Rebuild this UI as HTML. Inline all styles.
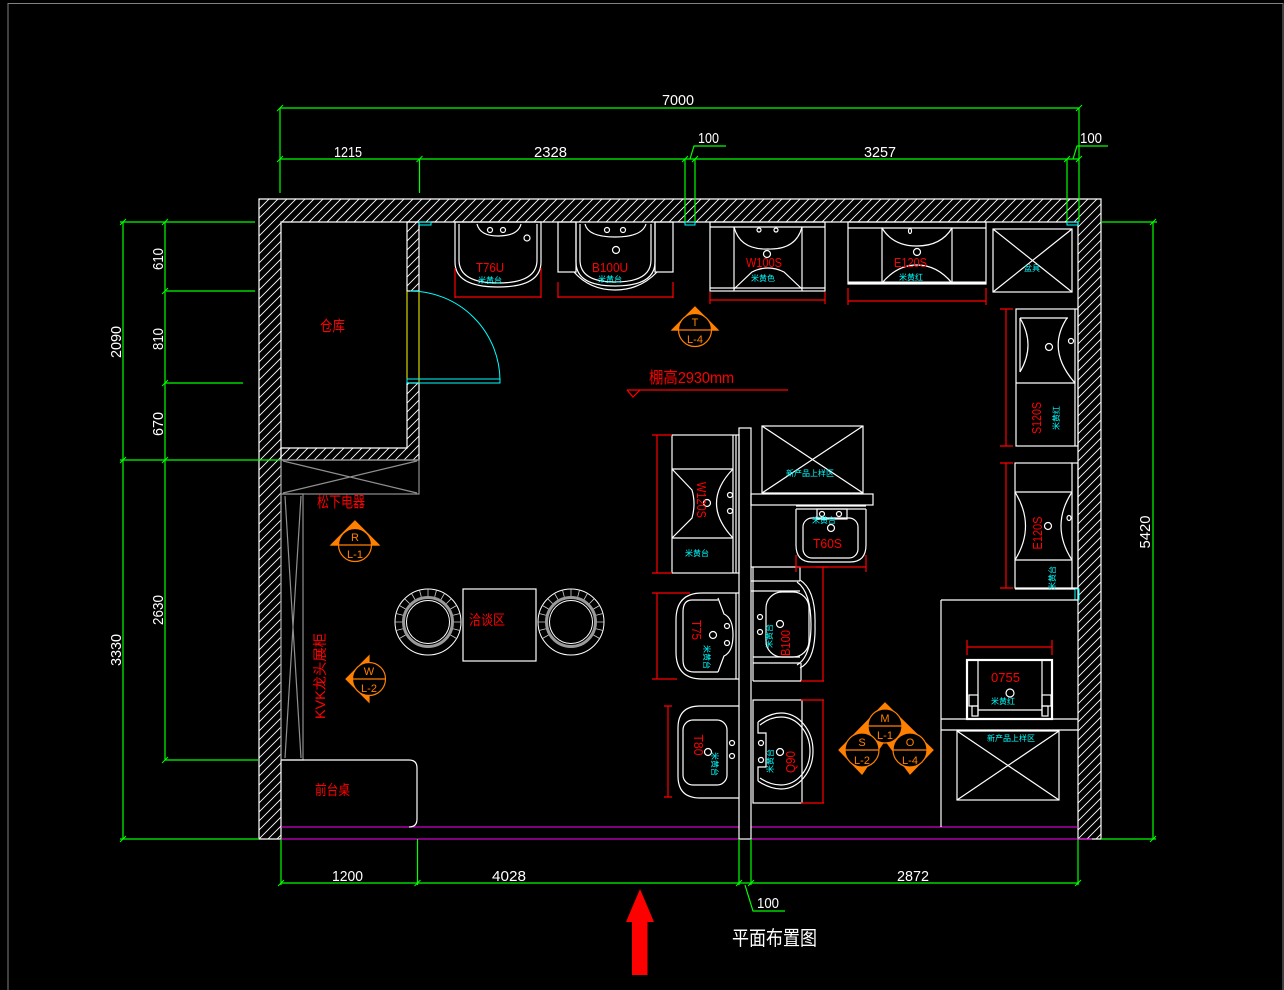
<!DOCTYPE html>
<html><head><meta charset="utf-8"><style>
html,body{margin:0;padding:0;background:#000;}
svg{display:block;}
text{font-family:"Liberation Sans","Noto Sans CJK SC",sans-serif;}
</style></head><body>
<svg width="1284" height="990" viewBox="0 0 1284 990" xmlns="http://www.w3.org/2000/svg">
<defs>
<pattern id="h" width="9" height="9" patternUnits="userSpaceOnUse">
<path d="M-1 1 L1 -1 M0 9 L9 0 M8 10 L10 8" stroke="#fff" stroke-width="0.9"/>
</pattern>
<path id="tk" d="M-3 3 L3 -3" stroke="#0f0" stroke-width="1"/>
<g id="chair" fill="none">
<circle r="33" stroke="#fff" stroke-width="1"/>
<circle r="24.5" stroke="#9a9a9a" stroke-width="3"/>
<circle r="21.5" stroke="#fff" stroke-width="1"/>
<path stroke="#ccc" stroke-width="0.8" d="M-22.5 13L-28.6 16.5M-25.1 6.7L-31.9 8.5M-26 0L-33 0M-25.1 -6.7L-31.9 -8.5M-22.5 -13L-28.6 -16.5M-18.4 -18.4L-23.3 -23.3M-13 -22.5L-16.5 -28.6M-6.7 -25.1L-8.5 -31.9M0 -26L0 -33M6.7 -25.1L8.5 -31.9M13 -22.5L16.5 -28.6M18.4 -18.4L23.3 -23.3M22.5 -13L28.6 -16.5M25.1 -6.7L31.9 -8.5M26 0L33 0M25.1 6.7L31.9 8.5M22.5 13L28.6 16.5"/>
</g>
</defs>
<rect width="1284" height="990" fill="#000"/>
<path d="M8 990 V3.5 H1283 V990" stroke="#808080" fill="none"/>

<!-- WALLS -->
<g fill="url(#h)" stroke="#fff" stroke-width="1.2">
<path d="M259 199 H1101 V839 H1078 V222 H281 V839 H259 Z"/>
<rect x="407" y="222" width="12" height="69"/>
<path d="M407 383 H419 V460 H281 V448 H407 Z"/>
</g>
<g stroke="#ff0" stroke-width="1"><line x1="407" y1="291" x2="407" y2="383"/><line x1="419" y1="291" x2="419" y2="383"/></g>
<!-- door -->
<g stroke="#0ff" fill="none" stroke-width="1">
<path d="M410 291 A 90 90 0 0 1 500 381"/>
<rect x="407" y="379" width="93" height="4"/>
<rect x="419" y="222" width="12" height="3"/>
<rect x="685" y="222" width="10" height="3"/>
<rect x="1067" y="222" width="11" height="3"/>
<rect x="1075" y="589" width="4" height="11"/>
</g>

<!-- magenta facade -->
<g stroke="#f0f" stroke-width="1">
<line x1="281" y1="827" x2="739" y2="827"/><line x1="751" y1="827" x2="1078" y2="827"/>
<line x1="281" y1="839" x2="1092" y2="839"/>
</g>

<!-- gray cabinets -->
<g stroke="#909090" fill="none" stroke-width="1.2">
<rect x="281" y="460" width="138" height="34"/>
<path d="M283 461 L417 493 M283 493 L417 461"/>
<rect x="281" y="494" width="22" height="266"/>
<path d="M285 496 L301 758 M301 496 L285 758"/>
</g>

<!-- front desk -->
<path d="M281 760 H409 Q417 760 417 768 V819 Q417 827 409 827" stroke="#fff" fill="none" stroke-width="1.2"/>

<!-- chairs & table -->
<use href="#chair" x="428" y="622"/>
<use href="#chair" x="571" y="622"/>
<rect x="463" y="589" width="73" height="72" stroke="#fff" fill="none" stroke-width="1.2"/>

<!-- partition and middle structure -->
<g stroke="#fff" fill="none" stroke-width="1.2">
<rect x="739" y="428" width="12" height="411"/>
<rect x="762" y="426" width="101" height="67"/>
<path d="M762 426 L863 493 M863 426 L762 493"/>
<rect x="751" y="494" width="122" height="11"/>
<line x1="751" y1="567" x2="800" y2="567"/>
<!-- right lower box -->
<line x1="941" y1="600" x2="941" y2="827"/>
<line x1="941" y1="600" x2="1078" y2="600"/>
<line x1="1015" y1="589" x2="1075" y2="589"/>
<line x1="941" y1="719" x2="1078" y2="719"/>
<line x1="941" y1="730" x2="1078" y2="730"/>
<rect x="957" y="731" width="102" height="69"/>
<path d="M957 731 L1059 800 M1059 731 L957 800"/>
<!-- top box -->
<rect x="993" y="229" width="79" height="63"/>
<path d="M993 229 L1072 292 M1072 229 L993 292"/>
</g>

<!-- TOP FIXTURES -->
<g stroke="#fff" fill="none" stroke-width="1.2">
<!-- T76U -->
<path d="M455 222 V262 Q455 287 498 287 Q541 287 541 262 V222 Z"/>
<path d="M459 224 V260 Q459 283 498 283 Q537 283 537 260 V224"/>
<path d="M477 224 Q480 236 498 236 Q518 236 521 224"/>
<circle cx="490" cy="230" r="2.5"/><circle cx="503" cy="230" r="2.5"/><circle cx="527" cy="238" r="3"/>
<!-- B100U -->
<rect x="558" y="222" width="18" height="50"/><rect x="655" y="222" width="18" height="50"/>
<path d="M576 222 V262 Q576 286 615 286 Q655 286 655 262 V222"/>
<path d="M580 224 V260 Q580 282 615 282 Q651 282 651 260 V224"/>
<path d="M574 272 Q590 290 615 290 Q640 290 657 272"/>
<path d="M585 224 Q588 237 615 237 Q642 237 646 224"/>
<circle cx="607" cy="230" r="2.5"/><circle cx="623" cy="230" r="2.5"/><circle cx="616" cy="250" r="3.5"/>
<!-- W100S -->
<rect x="710" y="222" width="115" height="69"/>
<line x1="710" y1="227" x2="825" y2="227"/><line x1="710" y1="288" x2="825" y2="288"/>
<line x1="734" y1="227" x2="734" y2="291"/><line x1="802" y1="227" x2="802" y2="291"/>
<path d="M734 227 Q740 250 768 249 Q796 250 802 227"/>
<path d="M734 289 L752 272 Q768 264 784 272 L802 289"/>
<circle cx="767" cy="254" r="3.5"/><circle cx="759" cy="230" r="2"/><circle cx="776" cy="230" r="2"/>
<!-- E120S top -->
<rect x="848" y="222" width="138" height="62"/>
<line x1="848" y1="228" x2="986" y2="228"/>
<line x1="882" y1="228" x2="882" y2="283"/><line x1="952" y1="228" x2="952" y2="283"/>
<path d="M882 228 Q893 246 917 246 Q941 246 952 228"/>
<path d="M882 283 Q897 265 917 265 Q937 265 952 283"/>
<circle cx="917" cy="252" r="3.5"/><ellipse cx="910" cy="231" rx="1.5" ry="2.5"/>
</g>
<line x1="848" y1="283" x2="986" y2="283" stroke="#fff" stroke-width="3"/>

<!-- RIGHT COLUMN FIXTURES -->
<g stroke="#fff" fill="none" stroke-width="1.2">
<rect x="1016" y="309" width="62" height="137"/>
<line x1="1075" y1="309" x2="1075" y2="446"/>
<line x1="1020" y1="318" x2="1068" y2="318"/>
<line x1="1016" y1="383" x2="1075" y2="383"/>
<line x1="1020" y1="318" x2="1020" y2="372"/>
<path d="M1020 318 Q1036 345 1020 372"/>
<path d="M1067 318 Q1046 350 1075 383"/>
<circle cx="1049" cy="347" r="3.5"/><circle cx="1071" cy="341" r="2.5"/>
<rect x="1015" y="463" width="63" height="125"/>
<line x1="1015" y1="492" x2="1072" y2="492"/><line x1="1015" y1="560" x2="1072" y2="560"/>
<line x1="1072" y1="463" x2="1072" y2="588"/>
<path d="M1015 492 Q1036 526 1015 560"/>
<path d="M1072 492 Q1050 526 1072 560"/>
<circle cx="1048" cy="526" r="3.5"/><ellipse cx="1069" cy="518" rx="2" ry="2.5"/>
</g>

<!-- MIDDLE FIXTURES -->
<g stroke="#fff" fill="none" stroke-width="1.2">
<!-- W120S -->
<rect x="672" y="435" width="67" height="138"/>
<line x1="733" y1="435" x2="733" y2="573"/><line x1="736" y1="435" x2="736" y2="573"/>
<line x1="672" y1="469" x2="733" y2="469"/><line x1="672" y1="538" x2="733" y2="538"/>
<path d="M672 469 L692 490 Q696 504 692 518 L672 538"/>
<path d="M733 469 Q700 503 733 538"/>
<circle cx="707" cy="503" r="3.5"/><circle cx="730" cy="495" r="2.5"/><circle cx="730" cy="511" r="2.5"/>
<!-- T60S -->
<line x1="796" y1="506" x2="866" y2="506"/><line x1="796" y1="509" x2="866" y2="509"/>
<path d="M796 509 V545 Q796 562 812 562 H850 Q866 562 866 545 V509"/>
<rect x="803" y="518" width="55" height="40" rx="9"/>
<rect x="817" y="509" width="30" height="10"/>
<circle cx="822" cy="514" r="2.5"/><circle cx="839" cy="514" r="2.5"/><circle cx="831" cy="528" r="3.5"/>
<!-- B100 -->
<line x1="753" y1="567" x2="753" y2="681"/>
<line x1="751" y1="581" x2="800" y2="581"/><line x1="751" y1="591" x2="800" y2="591"/>
<path d="M800 567 V580 Q816 590 815 625 Q816 660 800 668"/>
<path d="M797 582 Q811 592 811 625 Q811 657 797 665"/>
<rect x="766" y="592" width="43" height="65" rx="16"/>
<line x1="753" y1="657" x2="800" y2="657"/><line x1="753" y1="663" x2="800" y2="663"/>
<line x1="753" y1="681" x2="801" y2="681"/><line x1="801" y1="663" x2="801" y2="681"/>
<circle cx="780" cy="624" r="3.5"/><circle cx="760" cy="617" r="2.5"/><circle cx="760" cy="632" r="2.5"/>
<!-- Q90 -->
<rect x="753" y="700" width="49" height="103"/>
<path d="M758 722 Q770 713 781 713 A32 38 0 0 1 781 789 Q770 789 758 781"/>
<path d="M760 725 Q770 717 781 717 A29 34 0 0 1 781 785 Q770 785 760 778"/>
<path d="M758 722 V733 H766 V767 H758 V781"/>
<circle cx="761" cy="743" r="2.5"/><circle cx="761" cy="760" r="2.5"/><circle cx="780" cy="752" r="3.5"/>
<!-- T75 -->
<path d="M739 593 H702 Q676 593 676 620 V652 Q676 679 702 679 H739"/>
<line x1="736" y1="593" x2="736" y2="679"/>
<path d="M718 600 H692 Q683 600 683 612 V660 Q683 672 694 672 H718"/>
<path d="M718 598 L724 614 Q733 618 733 635 Q733 652 724 656 L718 672"/>
<circle cx="727" cy="626" r="2.5"/><circle cx="727" cy="643" r="2.5"/><circle cx="713" cy="635" r="3.5"/>
<!-- T80 -->
<path d="M739 706 H700 Q678 706 678 728 V776 Q678 798 700 798 H739"/>
<rect x="683" y="720" width="44" height="65" rx="10"/>
<circle cx="732" cy="743" r="2.5"/><circle cx="732" cy="756" r="2.5"/><circle cx="708" cy="752" r="3.5"/>
<!-- 0755 -->
<line x1="978" y1="660" x2="978" y2="715"/><line x1="1042" y1="660" x2="1042" y2="715"/>
<line x1="978" y1="710" x2="1042" y2="710"/>
<rect x="969" y="695" width="9" height="11"/><rect x="1042" y="695" width="9" height="11"/>
<rect x="972" y="706" width="6" height="10"/><rect x="1042" y="706" width="6" height="10"/>
<circle cx="1010" cy="693" r="4"/>
</g>
<rect x="967" y="660" width="85" height="59" stroke="#fff" fill="none" stroke-width="2.2"/>

<!-- RED DIMENSIONS OF FIXTURES -->
<g stroke="#f00" stroke-width="1.2" fill="none">
<path d="M455 297 H541 M455 268 V298 M541 268 V298"/>
<path d="M558 297 H673 M558 282 V298 M673 282 V298"/>
<path d="M710 300 H825 M710 292 V304 M825 292 V304"/>
<path d="M848 301 H986 M848 288 V305 M986 288 V305"/>
<path d="M1006 309 V446 M1000 309 H1013 M1000 446 H1013"/>
<path d="M1006 463 V588 M1000 463 H1013 M1000 588 H1013"/>
<path d="M657 435 V573 M652 435 H672 M652 573 H672"/>
<path d="M796 567 H866 M796 555 V572 M866 555 V572"/>
<path d="M823 567 V681 M801 681 H824 M816 567 H828"/>
<path d="M823 700 V803 M801 700 H824 M801 803 H824"/>
<path d="M657 593 V679 M652 593 H690 M652 679 H677"/>
<path d="M668 706 V797 M664 706 H672 M664 797 H672"/>
<path d="M967 647 H1052 M967 640 V655 M1052 640 V655"/>
<path d="M627 390 H788 M627 390 L633 397 L640 390"/>
</g>

<!-- GREEN DIMENSIONS -->
<g stroke="#0f0" stroke-width="1.2" fill="none">
<path d="M280 108 H1079 M280 108 V193 M1079 108 V222"/>
<path d="M280 159 H1079 M419.5 159 V193 M685 159 V222 M695 159 V222 M1067 159 V222"/>
<path d="M690 159 L694 146 H726 M1073 159 L1077 146 H1108"/>
<path d="M123 222 V839 M165 222 V760 M120 222 H255 M166 291 H255 M165 383 H243 M120 460 H280 M165 760 H258 M120 839 H259"/>
<path d="M1101 222 H1157 M1153 222 V839 M1101 839 H1156"/>
<path d="M281 883 H1079 M281 839 V885 M417.5 839 V885 M739 839 V885 M751 839 V885 M1078 839 V885"/>
<path d="M745 885 L753 911 H785"/>
</g>
<g>
<use href="#tk" x="280" y="108"/><use href="#tk" x="1079" y="108"/>
<use href="#tk" x="280" y="159"/><use href="#tk" x="419.5" y="159"/><use href="#tk" x="685" y="159"/><use href="#tk" x="695" y="159"/><use href="#tk" x="1067" y="159"/><use href="#tk" x="1079" y="159"/>
<use href="#tk" x="123" y="222"/><use href="#tk" x="165" y="222"/><use href="#tk" x="165" y="291"/><use href="#tk" x="165" y="383"/><use href="#tk" x="123" y="460"/><use href="#tk" x="165" y="460"/><use href="#tk" x="165" y="760"/><use href="#tk" x="123" y="839"/>
<use href="#tk" x="1153" y="222"/><use href="#tk" x="1153" y="839"/>
<use href="#tk" x="281" y="883"/><use href="#tk" x="417.5" y="883"/><use href="#tk" x="739" y="883"/><use href="#tk" x="751" y="883"/><use href="#tk" x="1078" y="883"/>
</g>

<!-- DIM TEXT (white) -->
<g fill="#fff" font-size="15">
<text x="662" y="105" textLength="32" lengthAdjust="spacingAndGlyphs">7000</text>
<text x="334" y="157" textLength="28" lengthAdjust="spacingAndGlyphs">1215</text>
<text x="534" y="157" textLength="33" lengthAdjust="spacingAndGlyphs">2328</text>
<text x="864" y="157" textLength="32" lengthAdjust="spacingAndGlyphs">3257</text>
<text x="698" y="143" textLength="21" lengthAdjust="spacingAndGlyphs">100</text>
<text x="1080" y="143" textLength="22" lengthAdjust="spacingAndGlyphs">100</text>
<text x="332" y="881" textLength="31" lengthAdjust="spacingAndGlyphs">1200</text>
<text x="492" y="881" textLength="34" lengthAdjust="spacingAndGlyphs">4028</text>
<text x="897" y="881" textLength="32" lengthAdjust="spacingAndGlyphs">2872</text>
<text x="757" y="908" textLength="22" lengthAdjust="spacingAndGlyphs">100</text>
<text transform="translate(163,259) rotate(-90)" text-anchor="middle" textLength="22" lengthAdjust="spacingAndGlyphs">610</text>
<text transform="translate(163,339) rotate(-90)" text-anchor="middle" textLength="22" lengthAdjust="spacingAndGlyphs">810</text>
<text transform="translate(163,424) rotate(-90)" text-anchor="middle" textLength="24" lengthAdjust="spacingAndGlyphs">670</text>
<text transform="translate(163,610) rotate(-90)" text-anchor="middle" textLength="30" lengthAdjust="spacingAndGlyphs">2630</text>
<text transform="translate(121,342) rotate(-90)" text-anchor="middle" textLength="32" lengthAdjust="spacingAndGlyphs">2090</text>
<text transform="translate(121,650) rotate(-90)" text-anchor="middle" textLength="32" lengthAdjust="spacingAndGlyphs">3330</text>
<text transform="translate(1150,532) rotate(-90)" text-anchor="middle" textLength="33" lengthAdjust="spacingAndGlyphs">5420</text>
<text x="732" y="945" font-size="20" textLength="85" lengthAdjust="spacingAndGlyphs">平面布置图</text>
</g>

<!-- red arrow -->
<polygon points="640,889 654,922 647.5,922 647.5,975 632,975 632,922 626,922" fill="#f00"/>

<!-- RED LABELS -->
<g fill="#f00" font-size="15">
<text x="320" y="331" textLength="25" lengthAdjust="spacingAndGlyphs">仓库</text>
<text x="317" y="507" textLength="48" lengthAdjust="spacingAndGlyphs">松下电器</text>
<text x="469" y="625" font-size="14" textLength="36" lengthAdjust="spacingAndGlyphs">洽谈区</text>
<text x="315" y="795" font-size="14" textLength="35" lengthAdjust="spacingAndGlyphs">前台桌</text>
<text transform="translate(325,676) rotate(-90)" text-anchor="middle" font-size="14" textLength="86" lengthAdjust="spacingAndGlyphs">KVK龙头展柜</text>
<text x="649" y="383" font-size="16" textLength="85" lengthAdjust="spacingAndGlyphs">棚高2930mm</text>
</g>
<g fill="#f00" font-size="13">
<text x="476" y="272" textLength="28" lengthAdjust="spacingAndGlyphs">T76U</text>
<text x="592" y="272" textLength="36" lengthAdjust="spacingAndGlyphs">B100U</text>
<text x="746" y="267" textLength="36" lengthAdjust="spacingAndGlyphs">W100S</text>
<text x="894" y="267" textLength="33" lengthAdjust="spacingAndGlyphs">E120S</text>
<text x="813" y="548" textLength="29" lengthAdjust="spacingAndGlyphs">T60S</text>
<text x="991" y="682" textLength="29" lengthAdjust="spacingAndGlyphs">0755</text>
<text transform="translate(1041,418) rotate(-90)" text-anchor="middle" textLength="32" lengthAdjust="spacingAndGlyphs">S120S</text>
<text transform="translate(1042,533) rotate(-90)" text-anchor="middle" textLength="33" lengthAdjust="spacingAndGlyphs">E120S</text>
<text transform="translate(697,500) rotate(90)" text-anchor="middle" textLength="36" lengthAdjust="spacingAndGlyphs">W120S</text>
<text transform="translate(692,630) rotate(90)" text-anchor="middle" textLength="20" lengthAdjust="spacingAndGlyphs">T75</text>
<text transform="translate(790,643) rotate(-90)" text-anchor="middle" textLength="26" lengthAdjust="spacingAndGlyphs">B100</text>
<text transform="translate(694,745) rotate(90)" text-anchor="middle" textLength="21" lengthAdjust="spacingAndGlyphs">T80</text>
<text transform="translate(795,762) rotate(-90)" text-anchor="middle" textLength="22" lengthAdjust="spacingAndGlyphs">Q90</text>
</g>

<!-- CYAN LABELS -->
<g fill="#0ff" font-size="8" text-anchor="middle">
<text x="490" y="283">米黄台</text>
<text x="610" y="282">米黄台</text>
<text x="763" y="281">米黄色</text>
<text x="911" y="280">米黄红</text>
<text x="1032" y="271">盆具</text>
<text x="810" y="476">新产品上样区</text>
<text x="1011" y="741">新产品上样区</text>
<text x="697" y="556">米黄台</text>
<text x="824" y="523">米黄台</text>
<text x="1003" y="704">米黄红</text>
<text transform="translate(1059,418) rotate(-90)">米黄红</text>
<text transform="translate(1055,578) rotate(-90)">米黄台</text>
<text transform="translate(704,657) rotate(90)">米黄台</text>
<text transform="translate(772,636) rotate(-90)">米黄台</text>
<text transform="translate(712,764) rotate(90)">米黄台</text>
<text transform="translate(773,761) rotate(-90)">米黄台</text>
</g>

<!-- ORANGE SYMBOLS -->
<g stroke="#ff8000" stroke-width="1.2">
<polygon points="355,521 379,545 331,545" fill="#ff8000"/>
<circle cx="355" cy="545" r="16.5" fill="#000"/>
<line x1="331" y1="545" x2="379" y2="545"/>
<polygon points="695,307 718,330 672,330" fill="#ff8000"/>
<circle cx="695" cy="330" r="16.5" fill="#000"/>
<line x1="672" y1="330" x2="718" y2="330"/>
<polygon points="346,679 369,656 369,702" fill="#ff8000"/>
<circle cx="369" cy="679" r="16.5" fill="#000"/>
<line x1="352" y1="679" x2="386" y2="679"/>
<polygon points="885,703 933,750 910,774 885,740 862,774 839,750" fill="#ff8000"/>
<circle cx="885" cy="726" r="17" fill="#000"/>
<circle cx="862" cy="750" r="17" fill="#000"/>
<circle cx="910" cy="750" r="17" fill="#000"/>
<line x1="868" y1="726" x2="902" y2="726"/>
<line x1="839" y1="750" x2="879" y2="750"/>
<line x1="893" y1="750" x2="933" y2="750"/>
</g>
<g fill="#ff8000" font-size="11" text-anchor="middle">
<text x="355" y="541">R</text><text x="355" y="558">L-1</text>
<text x="695" y="326">T</text><text x="695" y="343">L-4</text>
<text x="369" y="675">W</text><text x="369" y="692">L-2</text>
<text x="885" y="722">M</text><text x="885" y="739">L-1</text>
<text x="862" y="746">S</text><text x="862" y="764">L-2</text>
<text x="910" y="746">O</text><text x="910" y="764">L-4</text>
</g>
</svg>
</body></html>
